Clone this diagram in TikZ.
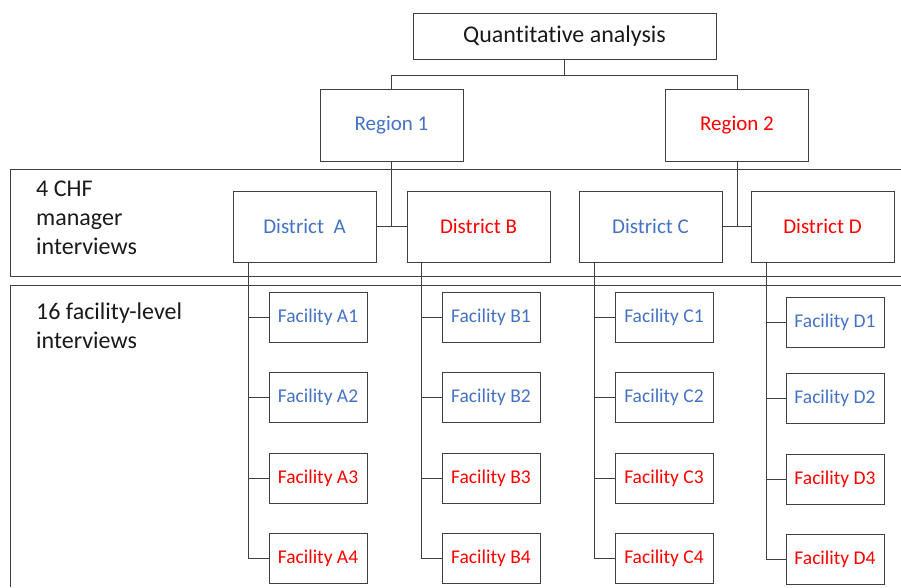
\documentclass[tikz,border=0pt]{standalone}
\usepackage{fontspec}
\setmainfont{Carlito}[Ligatures=NoCommon]
\usepackage{tikz}
\usetikzlibrary{positioning}
\definecolor{regblue}{HTML}{4472C4}
\definecolor{regred}{HTML}{FF0000}
\definecolor{linegray}{HTML}{404040}
\definecolor{textblack}{HTML}{1A1A1A}

\begin{document}
\begin{tikzpicture}[x=1pt,y=-1pt,
  box/.style={draw=linegray,line width=1pt,inner sep=0pt,outer sep=0pt,align=center},
  top node/.style={box,minimum width=303pt,minimum height=46pt,
    text=textblack,font=\fontsize{24}{29}\selectfont},
  region node/.style={box,minimum width=143pt,minimum height=72pt,
    font=\fontsize{21}{25}\selectfont},
  dist node/.style={box,minimum width=143pt,minimum height=71pt,
    font=\fontsize{21}{25}\selectfont},
  fac node/.style={box,minimum width=98pt,minimum height=50pt,
    font=\fontsize{19.5}{23}\selectfont},
  blue/.style={text=regblue},
  red/.style={text=regred},
  band label/.style={anchor=north west,inner sep=0pt,align=left,
    text=textblack,font=\fontsize{24}{29}\selectfont},
  conn/.style={draw=linegray,line width=1pt},
  elbow/.style={to path={|- (\tikztotarget.west)}}]

  \useasboundingbox (0,0) rectangle (901,587);

  % the two bands
  \draw[conn] (901,169) -- (10,169) -- (10,276) -- (901,276);
  \draw[conn] (901,285) -- (10,285) -- (10,587);
  \node[band label] (l1) at (36,180.5) {4 CHF\\manager\\interviews};
  \node[band label] (l2) at (36,303) {16 facility-level\\interviews};

  \node[top node] (1) at (564.5,36) {Quantitative analysis};
  \node[region node,blue] (2) at (391.5,125) {Region 1};
  \node[region node,red] (3) at (737,125) {Region 2};

  \node[dist node,blue] (4) at (304.5,226.5) {District~~A};
  \node[dist node,red] (5) [right=31pt of 4] {District B};
  \node[dist node,blue] (6) [right=29pt of 5] {District C};
  \node[dist node,red] (7) [right=29pt of 6] {District D};

  \node[fac node,blue] (8) [below right=30pt and 36pt of 4.south west] {Facility A1};
  \node[fac node,blue] (9) [below=30.5pt of 8] {Facility A2};
  \node[fac node,red] (10) [below=30.5pt of 9] {Facility A3};
  \node[fac node,red] (11) [below=30.5pt of 10] {Facility A4};

  \node[fac node,blue] (12) [below right=30pt and 35pt of 5.south west] {Facility B1};
  \node[fac node,blue] (13) [below=30.5pt of 12] {Facility B2};
  \node[fac node,red] (14) [below=30.5pt of 13] {Facility B3};
  \node[fac node,red] (15) [below=30.5pt of 14] {Facility B4};

  \node[fac node,blue] (16) [below right=30pt and 36pt of 6.south west] {Facility C1};
  \node[fac node,blue] (17) [below=30.5pt of 16] {Facility C2};
  \node[fac node,red] (18) [below=30.5pt of 17] {Facility C3};
  \node[fac node,red] (19) [below=30.5pt of 18] {Facility C4};

  \node[fac node,blue] (20) [below right=35pt and 35pt of 7.south west] {Facility D1};
  \node[fac node,blue] (21) [below=26.5pt of 20] {Facility D2};
  \node[fac node,red] (22) [below=30.5pt of 21] {Facility D3};
  \node[fac node,red] (23) [below=30.5pt of 22] {Facility D4};

  % upper tree
  \draw[conn] (1.south) -- ++(0,16) -| (2.north);
  \draw[conn] (1.south) -- ++(0,16) -| (3.north);
  \draw[conn] (2.south) -- (2.south |- 4.east);
  \draw[conn] (4.east) -- (5.west);
  \draw[conn] (3.south) -- (3.south |- 6.east);
  \draw[conn] (6.east) -- (7.west);

  % trunks down to the facilities
  \coordinate (tA) at ([xshift=15pt]4.south west);
  \coordinate (tB) at ([xshift=14pt]5.south west);
  \coordinate (tC) at ([xshift=15pt]6.south west);
  \coordinate (tD) at ([xshift=15pt]7.south west);
  \path[conn]
    (tA) edge[elbow] (8)
    (tA) edge[elbow] (9)
    (tA) edge[elbow] (10)
    (tA) edge[elbow] (11)
    (tB) edge[elbow] (12)
    (tB) edge[elbow] (13)
    (tB) edge[elbow] (14)
    (tB) edge[elbow] (15)
    (tC) edge[elbow] (16)
    (tC) edge[elbow] (17)
    (tC) edge[elbow] (18)
    (tC) edge[elbow] (19)
    (tD) edge[elbow] (20)
    (tD) edge[elbow] (21)
    (tD) edge[elbow] (22)
    (tD) edge[elbow] (23);
\end{tikzpicture}
\end{document}
